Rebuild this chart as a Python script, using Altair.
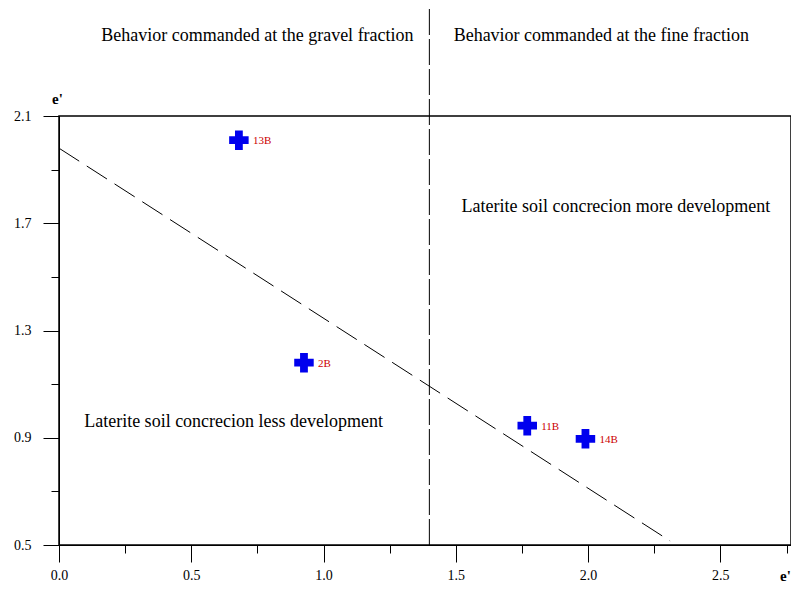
import altair as alt
import pandas as pd

# Data
sample_names = ["13B", "2B", "11B", "14B"]
sample_x = [0.68, 0.926, 1.77, 1.99]
sample_y = [2.01, 1.18, 0.945, 0.896]

boundary_x = [0.0, 2.31]
boundary_y = [1.98, 0.515]

split_x = [1.4, 1.4]
split_y = [0.5, 2.53]

x_major = [0.0, 0.5, 1.0, 1.5, 2.0, 2.5]
x_minor = [0.25, 0.75, 1.25, 1.75, 2.25, 2.75]
y_major = [0.5, 0.9, 1.3, 1.7, 2.1]
y_minor = [0.7, 1.1, 1.5, 1.9]

region_text = ["Laterite soil concrecion more development", "Laterite soil concrecion less development"]
region_x = [2.105, 0.66]
region_y = [1.76, 0.96]

header_text = ["Behavior commanded at the gravel fraction", "Behavior commanded at the fine fraction"]
header_x = [0.75, 2.05]
header_y = [2.40, 2.40]

FONT = "Liberation Serif"

pts = pd.DataFrame({"name": sample_names, "x": sample_x, "y": sample_y})
bnd = pd.DataFrame({"x": boundary_x, "y": boundary_y})
spl = pd.DataFrame({"x": split_x, "y": split_y})
reg = pd.DataFrame({"t": region_text, "x": region_x, "y": region_y})
hdr = pd.DataFrame({"t": header_text, "x": header_x, "y": header_y})

xs = alt.Scale(domain=[0, 2.767], nice=False, zero=False)
ys = alt.Scale(domain=[0.5, 2.1], nice=False, zero=False)

x_major_axis = alt.Axis(values=x_major, format=".1f", tickSize=17, tickColor="black",
                        domainColor="black", labelFont=FONT, labelFontSize=14,
                        labelColor="black", labelPadding=6, labelFlush=False, grid=False,
                        orient="bottom",
                        title="e'", titleFont=FONT, titleFontSize=15, titleFontWeight="bold",
                        titleX=726, titleY=38, titleAlign="center", titleBaseline="bottom")
y_major_axis = alt.Axis(values=y_major, format=".1f", tickSize=16, tickColor="black",
                        domainColor="black", labelFont=FONT, labelFontSize=14,
                        labelColor="black", labelPadding=12, labelFlush=False, grid=False,
                        orient="left",
                        title="e'", titleFont=FONT, titleFontSize=15, titleFontWeight="bold",
                        titleAngle=0, titleX=-2, titleY=-10, titleAlign="center",
                        titleBaseline="bottom")
x_minor_axis = alt.Axis(values=x_minor, tickSize=8, tickColor="black", labels=False,
                        domain=False, grid=False, orient="bottom", title=None)
y_minor_axis = alt.Axis(values=y_minor, tickSize=8, tickColor="black", labels=False,
                        domain=False, grid=False, orient="left", title=None)

points = alt.Chart(pts).mark_point(shape="cross", filled=True, size=380, color="#0000ee",
                                   opacity=1).encode(
    x=alt.X("x:Q", scale=xs, axis=x_major_axis),
    y=alt.Y("y:Q", scale=ys, axis=y_major_axis),
)
labels = alt.Chart(pts).mark_text(align="left", dx=14, dy=1, font=FONT, fontSize=11,
                                  color="#cc0000").encode(
    x=alt.X("x:Q", scale=xs, axis=None),
    y=alt.Y("y:Q", scale=ys, axis=None),
    text="name:N",
)
boundary = alt.Chart(bnd).mark_line(color="black", strokeWidth=1, strokeDash=[24, 9]).encode(
    x=alt.X("x:Q", scale=xs, axis=x_minor_axis),
    y=alt.Y("y:Q", scale=ys, axis=y_minor_axis),
)
split = alt.Chart(spl).mark_line(color="black", strokeWidth=1, strokeDash=[26, 4],
                                 clip=False).encode(
    x=alt.X("x:Q", scale=xs, axis=None),
    y=alt.Y("y:Q", scale=ys, axis=None),
)
regions = alt.Chart(reg).mark_text(font=FONT, fontSize=18, color="black").encode(
    x=alt.X("x:Q", scale=xs, axis=None),
    y=alt.Y("y:Q", scale=ys, axis=None),
    text="t:N",
)
headers = alt.Chart(hdr).mark_text(font=FONT, fontSize=18, color="black", clip=False).encode(
    x=alt.X("x:Q", scale=xs, axis=None),
    y=alt.Y("y:Q", scale=ys, axis=None),
    text="t:N",
)

chart = alt.layer(points, boundary, split, labels, regions, headers).resolve_axis(
    x="independent", y="independent"
).properties(
    width=732, height=429,
    autosize=alt.AutoSizeParams(type="none"),
    padding={"left": 51, "top": 108, "right": 0, "bottom": 40},
    background="white",
).configure_view(stroke="black", strokeWidth=1.5)

chart.save("out.html", embed_options={"renderer": "svg", "actions": False})
